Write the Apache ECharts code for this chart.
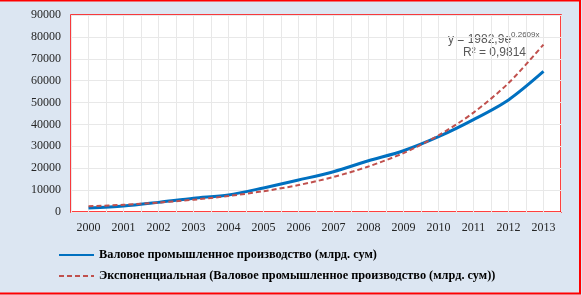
<!DOCTYPE html>
<html><head><meta charset="utf-8">
<script src="https://cdn.jsdelivr.net/npm/echarts@6/dist/echarts.min.js"></script>
<style>html,body{margin:0;padding:0;background:#dce6f2;}#c{width:582px;height:295px;}</style>
</head><body><div id="c"></div>
<script>
const years = ['2000','2001','2002','2003','2004','2005','2006','2007','2008','2009','2010','2011','2012','2013'];
const production = [1800, 2700, 4400, 6300, 7800, 11000, 14600, 18400, 23400, 28000, 34400, 42200, 51200, 64200];
const trend = [2600, 3300, 4300, 5600, 7300, 9500, 12300, 16000, 20800, 26900, 35000, 45400, 58900, 76500];
const yTicks = [0, 10000, 20000, 30000, 40000, 50000, 60000, 70000, 80000, 90000];
const seriesNames = ['Валовое промышленное производство (млрд. сум)', 'Экспоненциальная (Валовое промышленное производство (млрд. сум))'];
const trendLabel = ['y = 1982,9e', '0,2609x', 'R² = 0,9814'];

const chart = echarts.init(document.getElementById('c'), null, {renderer: 'canvas'});
const serif = '"Liberation Serif", "Times New Roman", serif';
const sans = '"Liberation Sans", Arial, sans-serif';
chart.setOption({
  backgroundColor: '#dce6f2',
  animation: false,
  grid: {left: 71, top: 15, right: 21, bottom: 83, show: true, backgroundColor: '#ffffff', borderColor: '#ff0000', borderWidth: 1.5},
  xAxis: [{
    type: 'category', data: years, boundaryGap: true,
    axisLine: {show: false}, axisTick: {show: false},
    axisLabel: {fontFamily: serif, fontSize: 12, color: '#262626', margin: 10},
    splitLine: {show: false}
  }, {
    type: 'value', min: 0, max: 28, interval: 1, position: 'bottom',
    axisLine: {show: false}, axisTick: {show: false}, axisLabel: {show: false},
    splitLine: {show: true, lineStyle: {color: '#e8e8e8', width: 1}}
  }],
  yAxis: {
    type: 'value', min: yTicks[0], max: yTicks[yTicks.length - 1], interval: 10000,
    axisLine: {show: false}, axisTick: {show: false},
    axisLabel: {fontFamily: serif, fontSize: 12, color: '#262626', margin: 10, formatter: v => String(v)},
    splitLine: {lineStyle: {color: '#e8e8e8', width: 1}}
  },
  legend: {
    orient: 'vertical', left: 58, top: 249, itemGap: 9, itemWidth: 35, itemHeight: 14, padding: 0,
    textStyle: {fontFamily: serif, fontSize: 12.3, fontWeight: 'bold', color: '#000'},
    data: [
      {name: seriesNames[0], itemStyle: {opacity: 0}},
      {name: seriesNames[1], itemStyle: {opacity: 0}}
    ]
  },
  series: [{
    name: seriesNames[0], type: 'line', xAxisIndex: 0, data: production, smooth: 0.3,
    symbol: 'none', lineStyle: {color: '#0070c0', width: 3}, itemStyle: {color: '#0070c0'}, z: 3
  }, {
    name: seriesNames[1], type: 'line', xAxisIndex: 0, data: trend, smooth: 0.3,
    symbol: 'none', lineStyle: {color: '#c0504d', width: 2, type: [5, 3]}, itemStyle: {color: '#c0504d'}, z: 4
  }],
  graphic: [
    {type: 'rect', shape: {x: -5, y: 0.5, width: 585, height: 293}, style: {fill: 'none', stroke: '#ff0000', lineWidth: 2}, silent: true},
    {type: 'text', left: 448, top: 31, style: {
      text: '{m|' + trendLabel[0] + '}{s|' + trendLabel[1] + '}',
      rich: {m: {fontFamily: sans, fontSize: 12, fill: '#595959', verticalAlign: 'bottom'},
             s: {fontFamily: sans, fontSize: 8, fill: '#595959', verticalAlign: 'top', padding: [0, 0, 7, 0]}}
    }},
    {type: 'text', left: 463, top: 47, style: {text: trendLabel[2], fontFamily: sans, fontSize: 12, fill: '#595959'}}
  ]
});
</script></body></html>
